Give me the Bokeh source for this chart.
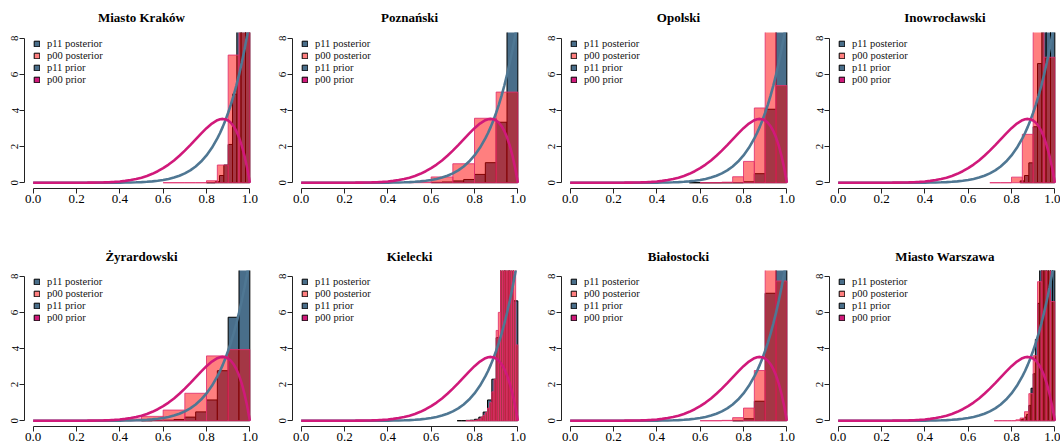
from bokeh.plotting import figure
from bokeh.layouts import row, column
from bokeh.models import (FixedTicker, PrintfTickFormatter, Legend, LegendItem,
                          ColumnDataSource, Range1d)
from bokeh.embed import file_html
from bokeh.resources import INLINE

# ---------------- data ----------------
titles = ["Miasto Kraków", "Poznański", "Opolski", "Inowrocławski",
          "Żyrardowski", "Kielecki", "Białostocki", "Miasto Warszawa"]

# posterior histograms: first break, bin width, densities
p11_start = [0.80, 0.60, 0.55, 0.84, 0.50, 0.72, 0.75, 0.84]
p11_step = [0.02, 0.05, 0.05, 0.02, 0.05, 0.02, 0.05, 0.01]
p00_start = [0.60, 0.50, 0.60, 0.70, 0.30, 0.76, 0.60, 0.72]
p00_step = [0.05, 0.10, 0.05, 0.05, 0.10, 0.01, 0.05, 0.02]

krakow_p11 = [0, 0, 0.05, 0.4, 0.98, 2.12, 4.91, 9.5, 13.5, 18.5]
krakow_p00 = [0, 0, 0, 0, 0.11, 0.98, 7.07, 11.84]
poznanski_p11 = [0.02, 0.04, 0.1, 0.18, 0.46, 1.11, 3.35, 14.74]
poznanski_p00 = [0.04, 0.32, 1.05, 3.57, 5.02]
opolski_p11 = [0, 0, 0, 0, 0, 0.05, 0.5, 4.07, 15.38]
opolski_p00 = [0, 0, 0.03, 0.33, 1.18, 4.14, 8.94, 5.38]
inowroclawski_p11 = [0.1, 0.4, 1.1, 3.1, 6.6, 10.5, 14.0, 14.2]
inowroclawski_p00 = [0, 0, 0.31, 2.68, 10.06, 6.95]
zyrardowski_p11 = [0.0, 0.02, 0.03, 0.07, 0.2, 0.49, 1.15, 2.77, 5.73, 9.54]
zyrardowski_p00 = [0.02, 0.1, 0.24, 0.59, 1.52, 3.59, 3.94]
kielecki_p11 = [0, 0, 0.02, 0.03, 0.08, 0.2, 0.48, 1.15, 2.3, 4.6, 10.5, 13.0, 11.0, 6.64]
kielecki_p00 = [0, 0, 0, 0, 0.02, 0.05, 0.1, 0.2, 0.3, 0.45, 0.7, 1.0, 1.6, 2.3,
                5.0, 6.0, 9.0, 10.5, 12.0, 13.0, 12.5, 11.5, 9.58, 4.2]
bialostocki_p11 = [0, 0.11, 1.08, 7.06, 11.75]
bialostocki_p00 = [0, 0, 0.02, 0.17, 0.7, 2.78, 8.59, 7.74]
warszawa_p11 = [0.05, 0.1, 0.2, 0.35, 0.85, 1.8, 2.6, 4.5, 6.5, 9.0, 11.0, 12.5,
                13.5, 13.5, 12.5, 11.05]
warszawa_p00 = [0, 0, 0, 0, 0, 0.05, 0.15, 0.5, 1.5, 3.6, 7.7, 14.0, 15.9, 6.6]

p11_dens = [krakow_p11, poznanski_p11, opolski_p11, inowroclawski_p11,
            zyrardowski_p11, kielecki_p11, bialostocki_p11, warszawa_p11]
p00_dens = [krakow_p00, poznanski_p00, opolski_p00, inowroclawski_p00,
            zyrardowski_p00, kielecki_p00, bialostocki_p00, warszawa_p00]

# prior density curves (same in every panel)
prior_x = [0.0, 0.05, 0.1, 0.15, 0.2, 0.25, 0.275, 0.3, 0.325, 0.35, 0.375, 0.4,
           0.425, 0.45, 0.475, 0.5, 0.525, 0.55, 0.575, 0.6, 0.625, 0.65, 0.675,
           0.7, 0.725, 0.75, 0.775, 0.8, 0.825, 0.85, 0.8625, 0.875, 0.8875, 0.9,
           0.9125, 0.925, 0.9375, 0.95, 0.9625, 0.975, 0.9875, 1.0]
p00_prior = [0.0, 0.0, 0.0, 0.0001, 0.0007, 0.0033, 0.0062, 0.011, 0.0186, 0.0301,
             0.0469, 0.0708, 0.1037, 0.148, 0.206, 0.281, 0.376, 0.493, 0.636,
             0.806, 1.006, 1.235, 1.494, 1.779, 2.085, 2.403, 2.72, 3.02, 3.277,
             3.463, 3.516, 3.534, 3.513, 3.444, 3.319, 3.129, 2.864, 2.514, 2.066,
             1.508, 0.824, 0.0]
p11_prior = [0.0, 0.0, 0.0, 0.0, 0.00002, 0.0001, 0.0003, 0.0006, 0.0011, 0.002,
             0.0035, 0.0059, 0.0096, 0.0151, 0.0233, 0.0352, 0.0519, 0.0754,
             0.1075, 0.151, 0.2095, 0.287, 0.388, 0.519, 0.687, 0.901, 1.171,
             1.51, 1.931, 2.452, 2.756, 3.093, 3.464, 3.874, 4.326, 4.824, 5.37,
             5.971, 6.629, 7.349, 8.139, 9.0]

x_ticks = [0.0, 0.2, 0.4, 0.6, 0.8, 1.0]
y_ticks = [0, 2, 4, 6, 8]
legend_labels = ["p11 posterior", "p00 posterior", "p11 prior", "p00 prior"]

# ---------------- style ----------------
BLUE = "#496E8A"
BLUE_LINE = "#4F7793"
MAGENTA = "#D0197A"
P00_FILL = "#FF0000"
P00_EDGE = "#E0306E"
SERIF = "Liberation Serif"

col_left = [24, 24, 25, 25]
col_width = [268, 268, 268, 256]
col_right = [10, 10, 9, 0]
row_top = [32, 34]
row_height = [236, 212]
title_standoff = [12, 9]
FRAME_H = 156
SCALE_X = 234 / 1.08
NAN = float("nan")


def hist_source(start, step, dens):
    left = [round(start + i * step, 4) for i in range(len(dens))]
    right = [round(start + (i + 1) * step, 4) for i in range(len(dens))]
    return ColumnDataSource(dict(left=left, right=right, top=dens,
                                 bottom=[0] * len(dens)))


def make_panel(k):
    r, c = divmod(k, 4)
    frame_w = col_width[c] - col_left[c] - col_right[c]
    x_end = -0.04 + frame_w / SCALE_X
    p = figure(width=col_width[c], height=row_height[r],
               x_range=Range1d(-0.04, x_end), y_range=Range1d(-0.32, 8.32),
               output_backend="svg", toolbar_location=None,
               min_border_left=col_left[c], min_border_right=col_right[c],
               min_border_top=row_top[r],
               min_border_bottom=row_height[r] - row_top[r] - FRAME_H)
    p.outline_line_color = None
    p.xgrid.visible = False
    p.ygrid.visible = False
    p.background_fill_color = "white"
    p.border_fill_color = "white"

    p.title.text = titles[k]
    p.title.align = "center"
    p.title.vertical_align = "top"
    p.title.text_font = SERIF
    p.title.text_font_style = "bold"
    p.title.text_font_size = "13px"
    p.title.text_color = "black"
    p.title.standoff = title_standoff[r]

    # posterior histograms
    p.quad(left="left", right="right", top="top", bottom="bottom",
           source=hist_source(p11_start[k], p11_step[k], p11_dens[k]),
           fill_color=BLUE, line_color="black", line_width=1)
    p.quad(left="left", right="right", top="top", bottom="bottom",
           source=hist_source(p00_start[k], p00_step[k], p00_dens[k]),
           fill_color=P00_FILL, fill_alpha=0.5, line_color=P00_EDGE,
           line_alpha=0.85, line_width=1)

    # prior curves
    p.line(prior_x, p11_prior, line_color=BLUE_LINE, line_width=2.6)
    p.line(prior_x, p00_prior, line_color=MAGENTA, line_width=2.6)

    # legend with filled boxes (key-only renderers, no visible data)
    fills = [(BLUE, 1.0), (P00_FILL, 0.5), (BLUE, 1.0), (MAGENTA, 1.0)]
    items = []
    for lab, (fc, fa) in zip(legend_labels, fills):
        rr = p.quad(left=[NAN], right=[NAN], top=[NAN], bottom=[NAN],
                    fill_color=fc, fill_alpha=fa,
                    line_color="black", line_width=1)
        items.append(LegendItem(label=lab, renderers=[rr]))
    leg = Legend(items=items, location=(9, FRAME_H - 5 - 48),
                 glyph_width=7, glyph_height=7, label_height=12, spacing=0,
                 padding=0, margin=0, label_standoff=7,
                 label_text_font=SERIF, label_text_font_size="10.5px",
                 label_text_color="#111111",
                 border_line_alpha=0, background_fill_alpha=0)
    p.add_layout(leg)

    # axes
    for ax in (p.xaxis[0], p.yaxis[0]):
        ax.axis_line_color = "#222222"
        ax.major_tick_line_color = "#222222"
        ax.minor_tick_line_color = None
        ax.major_tick_in = 0
        ax.major_tick_out = 5
        ax.major_label_text_font = SERIF
        ax.major_label_text_color = "black"
    p.xaxis.ticker = FixedTicker(ticks=x_ticks)
    p.xaxis.formatter = PrintfTickFormatter(format="%.1f")
    p.xaxis.bounds = (0, 1)
    p.xaxis.major_label_text_font_size = "13px"
    p.xaxis.major_label_standoff = 1
    p.yaxis.ticker = FixedTicker(ticks=y_ticks)
    p.yaxis.formatter = PrintfTickFormatter(format="%d")
    p.yaxis.bounds = (0, 8)
    p.yaxis.major_label_text_font_size = "11px"
    p.yaxis.major_label_orientation = "vertical"
    p.yaxis.major_label_standoff = 1
    return p


panels = [make_panel(k) for k in range(8)]
layout = column(row(*panels[:4], spacing=0), row(*panels[4:], spacing=0), spacing=0)

open("out.html", "w").write(file_html(layout, INLINE))
